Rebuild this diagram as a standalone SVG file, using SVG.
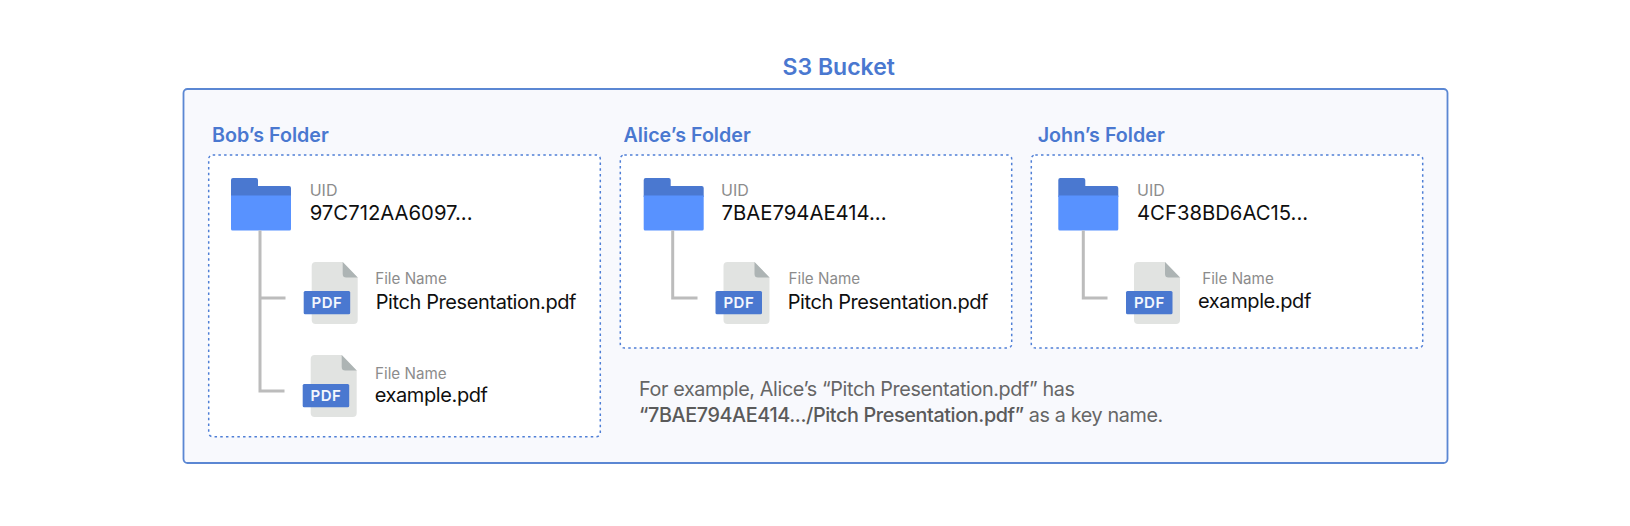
<svg xmlns="http://www.w3.org/2000/svg" width="1630" height="526" viewBox="0 0 1630 526">
<style>
text{font-family:Inter,"Noto Sans","Liberation Sans",sans-serif}
.t{fill:#4a78d0;font-weight:600;font-size:19.7px}
.h{fill:#4a78d0;font-weight:600;font-size:23px}
.l{fill:#8c8c8c;font-size:15.200px}
.u{fill:#8c8c8c;font-size:16px}
.i{fill:#0f0f0f;font-size:20.3px}
.v{fill:#0f0f0f;font-size:20px;letter-spacing:-.4px}
.b{fill:#666;font-size:19.8px;letter-spacing:-.38px}
.m{fill:#5a5a5a;font-weight:500}
.p{fill:#f4f7fd;font-weight:600;font-size:15px;text-anchor:middle;letter-spacing:.5px}
.d{fill:#fff;stroke:#4f7fd6;stroke-width:1.5;stroke-dasharray:2.5 3.2}
.c{fill:none;stroke:#bcbcbc;stroke-width:3}
</style>
<defs>
<g id="folder">
<path d="M0 2a2 2 0 0 1 2-2h23a2 2 0 0 1 2 2v6h31a2 2 0 0 1 2 2v9H0z" fill="#4a78d0"/>
<path d="M0 17.500h60V51a1.500 1.500 0 0 1-1.500 1.500H1.500A1.500 1.500 0 0 1 0 51z" fill="#5892ff"/>
</g>
<g id="doc">
<path d="M4 0H31L46 15.500V58a4 4 0 0 1-4 4H4a4 4 0 0 1-4-4V4a4 4 0 0 1 4-4z" fill="#e1e3e1"/>
<path d="M31 0L46 15.500H34.500a3.500 3.500 0 0 1-3.500-3.500z" fill="#adb4b4"/>
<rect x="-8" y="29" width="46.500" height="23.300" rx="1.500" fill="#4a78d0"/>
<text class="p" x="15.300" y="46.300">PDF</text>
</g>
</defs>
<g id="bucket">
<rect x="183.500" y="89" width="1264" height="374" rx="4" fill="#f8f9fd" stroke="#5b87d3" stroke-width="1.800"/>
<text class="h" x="838.700" y="74.700" text-anchor="middle">S3 Bucket</text>
</g>
<g id="bob">
<text class="t" x="212" y="141.700">Bob’s Folder</text>
<rect class="d" x="208.700" y="155" width="391.600" height="281.700" rx="4"/>
<use href="#folder" x="231" y="178"/>
<text class="u" x="309.700" y="196">UID</text>
<text class="i" x="309.700" y="220">97C712AA6097...</text>
</g>
<g id="bob-file-1">
<use href="#doc" x="311.700" y="262"/>
<text class="l" x="375.200" y="284">File Name</text>
<text class="v" x="375.700" y="309">Pitch Presentation.pdf</text>
</g>
<g id="bob-file-2">
<use href="#doc" x="310.700" y="355"/>
<text class="l" x="375" y="378.700">File Name</text>
<text class="v" x="374.700" y="402.300">example.pdf</text>
</g>
<g id="alice">
<text class="t" x="623.500" y="141.700">Alice’s Folder</text>
<rect class="d" x="620.300" y="155" width="391.400" height="193" rx="4"/>
<use href="#folder" x="643.700" y="178"/>
<text class="u" x="721" y="196">UID</text>
<text class="i" x="721.500" y="220">7BAE794AE414...</text>
</g>
<g id="alice-file">
<use href="#doc" x="723.500" y="262"/>
<text class="l" x="788.500" y="284">File Name</text>
<text class="v" x="787.700" y="309">Pitch Presentation.pdf</text>
</g>
<g id="john">
<text class="t" x="1037.700" y="141.700">John’s Folder</text>
<rect class="d" x="1031.300" y="155" width="391.400" height="193" rx="4"/>
<use href="#folder" x="1058.300" y="178"/>
<text class="u" x="1137" y="196">UID</text>
<text class="i" x="1137" y="220">4CF38BD6AC15...</text>
</g>
<g id="john-file">
<use href="#doc" x="1134" y="262"/>
<text class="l" x="1202.200" y="284">File Name</text>
<text class="v" x="1198" y="307.700">example.pdf</text>
</g>
<g id="note">
<text class="b" x="639" y="395.700">For example, Alice’s “Pitch Presentation.pdf” has</text>
<text class="b" x="639" y="422"><tspan class="m">“7BAE794AE414.../Pitch Presentation.pdf”</tspan> as a key name.</text>
</g>
<g id="connectors">
<path class="c" d="M260 230.500V391H284.500M260 298H285.500"/>
<path class="c" d="M672.700 230.500V298H697.500"/>
<path class="c" d="M1083.300 230.500V298H1107.500"/>
</g>
</svg>
